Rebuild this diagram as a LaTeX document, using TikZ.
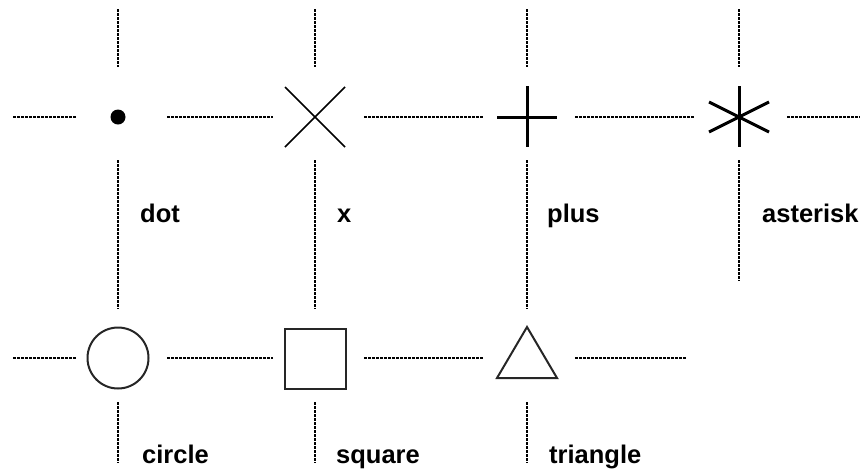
\documentclass[tikz,border=0pt]{standalone}
\usepackage{fontspec}
\setmainfont{Liberation Sans}
\usetikzlibrary{calc}
\tikzset{
  guide/.style={draw=black, line width=1.3pt, dash pattern=on 3pt off 1pt},
  thinmark/.style={draw=black, line width=1.5pt},
  thickmark/.style={draw=black, line width=3pt},
  shapemark/.style={draw=black!85, line width=2pt},
  lbl/.style={anchor=base west, inner sep=0pt, font=\fontsize{25.5}{30}\bfseries\selectfont}
}
\begin{document}
\begin{tikzpicture}[x=1pt,y=-1pt]
\useasboundingbox (0,0) rectangle (866,472);
% marker centres
\coordinate (mdot) at (118,117);
\coordinate (mx) at (315,117);
\coordinate (mplus) at (527,117);
\coordinate (mast) at (739,117);
\coordinate (mcirc) at (118,358);
\coordinate (msq) at (315,358);
\coordinate (mtri) at (527,358);

% horizontal guides, row 1
\draw[guide] (13,117) -- (76,117);
\draw[guide] (167,117) -- (273,117);
\draw[guide] (364,117) -- (483,117);
\draw[guide] (575,117) -- (695,117);
\draw[guide] (787,117) -- (860,117);
% horizontal guides, row 2
\draw[guide] (13,358) -- (76,358);
\draw[guide] (167,358) -- (273,358);
\draw[guide] (364,358) -- (483,358);
\draw[guide] (575,358) -- (686,358);
% vertical guides
\foreach \cx in {118,315,527}{
  \draw[guide] (\cx,9) -- (\cx,67);
  \draw[guide] (\cx,160) -- (\cx,309);
  \draw[guide] (\cx,402) -- (\cx,463);
}
\draw[guide] (739,9) -- (739,67);
\draw[guide] (739,160) -- (739,281);

% markers
\fill[black] (mdot) circle[radius=7.5];
\draw[thinmark] ($(mx)+(-30,-30)$) -- ($(mx)+(30,30)$);
\draw[thinmark] ($(mx)+(-30,30)$) -- ($(mx)+(30,-30)$);
\draw[thickmark] ($(mplus)+(-30,0)$) -- ($(mplus)+(30,0)$);
\draw[thickmark] ($(mplus)+(0,-31)$) -- ($(mplus)+(0,30)$);
\draw[thickmark] ($(mast)+(0,-31)$) -- ($(mast)+(0,30)$);
\draw[thickmark] ($(mast)+(-30,-15)$) -- ($(mast)+(30,15)$);
\draw[thickmark] ($(mast)+(-30,15)$) -- ($(mast)+(30,-15)$);
\draw[shapemark] (mcirc) circle[radius=30.5];
\draw[shapemark] ($(msq)+(-30,-29)$) rectangle ($(msq)+(31,31)$);
\draw[shapemark, line join=miter] ($(mtri)+(0,-31)$) -- ($(mtri)+(30,20)$) -- ($(mtri)+(-30,20)$) -- cycle;

% labels
\node[lbl] (ldot) at (140,222) {dot};
\node[lbl] (lx) at (337,222) {x};
\node[lbl] (lplus) at (547,222) {plus};
\node[lbl] (last) at (762,222) {asterisk};
\node[lbl] (lcirc) at (142,463) {circle};
\node[lbl] (lsq) at (336,463) {square};
\node[lbl] (ltri) at (549,463) {triangle};
\end{tikzpicture}
\end{document}
